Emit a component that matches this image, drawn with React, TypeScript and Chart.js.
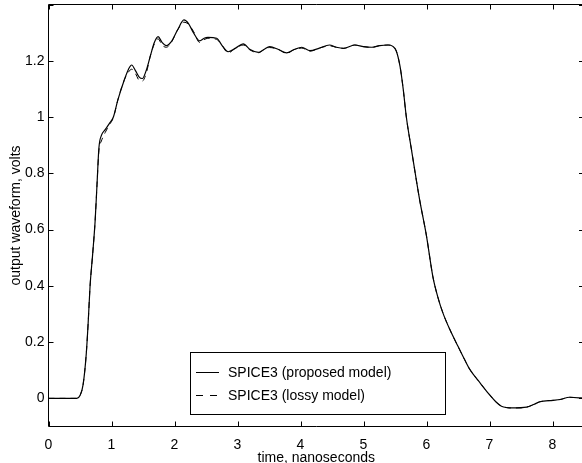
import React, { useEffect, useRef } from "react";
import { Chart, registerables } from "chart.js";

Chart.register(...registerables);

const times = [0, 0.3, 0.45, 0.5, 0.55, 0.6, 0.63, 0.66, 0.7, 0.74, 0.77, 0.8, 0.84, 0.9, 0.96, 1.03, 1.1, 1.2, 1.27, 1.32, 1.38, 1.44, 1.49, 1.55, 1.62, 1.68, 1.74, 1.8, 1.87, 1.95, 2.05, 2.15, 2.22, 2.3, 2.4, 2.47, 2.53, 2.67, 2.75, 2.85, 2.97, 3.09, 3.2, 3.33, 3.42, 3.51, 3.65, 3.78, 3.9, 4.02, 4.15, 4.3, 4.46, 4.57, 4.68, 4.86, 5.0, 5.13, 5.26, 5.39, 5.46, 5.52, 5.58, 5.63, 5.68, 5.76, 5.89, 6.0, 6.1, 6.18, 6.26, 6.38, 6.5, 6.6, 6.69, 6.85, 7.0, 7.1, 7.19, 7.37, 7.59, 7.7, 7.8, 8.01, 8.12, 8.27, 8.5];

const proposedModel = [0, 0, 0, 0.01, 0.05, 0.16, 0.27, 0.4, 0.51, 0.63, 0.76, 0.89, 0.935, 0.955, 0.975, 1.0, 1.06, 1.13, 1.17, 1.185, 1.165, 1.142, 1.137, 1.165, 1.22, 1.265, 1.286, 1.266, 1.254, 1.268, 1.31, 1.345, 1.333, 1.3, 1.271, 1.28, 1.283, 1.28, 1.256, 1.232, 1.245, 1.26, 1.24, 1.23, 1.24, 1.25, 1.24, 1.228, 1.24, 1.248, 1.236, 1.245, 1.256, 1.248, 1.244, 1.256, 1.25, 1.248, 1.254, 1.256, 1.252, 1.235, 1.18, 1.1, 1.0, 0.886, 0.707, 0.577, 0.434, 0.36, 0.304, 0.24, 0.185, 0.14, 0.102, 0.055, 0.013, -0.012, -0.028, -0.034, -0.031, -0.022, -0.012, -0.007, -0.004, 0.004, 0.0];

const lossyModel = [0, 0, 0, 0.01, 0.05, 0.16, 0.27, 0.4, 0.51, 0.63, 0.76, 0.88, 0.915, 0.945, 0.97, 0.998, 1.06, 1.13, 1.16, 1.17, 1.155, 1.13, 1.128, 1.155, 1.22, 1.26, 1.278, 1.256, 1.248, 1.265, 1.31, 1.337, 1.33, 1.305, 1.265, 1.275, 1.28, 1.276, 1.256, 1.228, 1.245, 1.256, 1.238, 1.228, 1.24, 1.247, 1.24, 1.226, 1.24, 1.245, 1.234, 1.245, 1.253, 1.248, 1.244, 1.256, 1.25, 1.248, 1.254, 1.256, 1.252, 1.235, 1.18, 1.1, 1.0, 0.886, 0.707, 0.577, 0.434, 0.36, 0.304, 0.24, 0.185, 0.14, 0.102, 0.055, 0.013, -0.012, -0.028, -0.034, -0.031, -0.022, -0.012, -0.007, -0.004, 0.004, 0.0];

const xTicks = [0, 1, 2, 3, 4, 5, 6, 7, 8];
const yTicks = [0, 0.2, 0.4, 0.6, 0.8, 1, 1.2, 1.4];
const seriesNames = ["SPICE3 (proposed model)", "SPICE3 (lossy model)"];
const xTitle = "time, nanoseconds";
const yTitle = "output waveform, volts";

const FONT = "'Liberation Sans', Arial, Helvetica, sans-serif";
const TICK = 5;

const framePlugin = {
  id: "matlabFrame",
  afterDraw(chart: any) {
    const { ctx, chartArea: a, scales } = chart;
    const xs = scales.x;
    const ys = scales.y;
    ctx.save();
    ctx.strokeStyle = "#000";
    ctx.lineWidth = 1;
    ctx.setLineDash([]);
    ctx.beginPath();
    ctx.rect(a.left, a.top, a.right - a.left, a.bottom - a.top);
    ctx.stroke();
    ctx.beginPath();
    xs.ticks.forEach((t: any) => {
      const px = Math.round(xs.getPixelForValue(t.value)) + 0.5;
      ctx.moveTo(px, a.bottom);
      ctx.lineTo(px, a.bottom - TICK);
      ctx.moveTo(px, a.top);
      ctx.lineTo(px, a.top + TICK);
    });
    ys.ticks.forEach((t: any) => {
      const py = Math.round(ys.getPixelForValue(t.value)) + 0.5;
      ctx.moveTo(a.left, py);
      ctx.lineTo(a.left + TICK, py);
      ctx.moveTo(a.right, py);
      ctx.lineTo(a.right - TICK, py);
    });
    ctx.stroke();

    // legend box
    const lx = 190.5, ly = 352.5, lw = 255, lh = 62;
    ctx.fillStyle = "#fff";
    ctx.fillRect(lx, ly, lw, lh);
    ctx.strokeRect(lx, ly, lw, lh);
    const rows = [372, 395];
    ctx.font = `14px ${FONT}`;
    ctx.fillStyle = "#000";
    ctx.textBaseline = "middle";
    ctx.textAlign = "left";
    rows.forEach((ry, i) => {
      ctx.beginPath();
      ctx.setLineDash(i === 0 ? [] : [7, 7]);
      ctx.moveTo(196, ry + 0.5);
      ctx.lineTo(219, ry + 0.5);
      ctx.stroke();
      ctx.setLineDash([]);
      ctx.fillText(seriesNames[i], 228, ry + 1);
    });
    ctx.restore();
  },
};

export default function App() {
  const ref = useRef<HTMLCanvasElement | null>(null);
  useEffect(() => {
    if (!ref.current) return;
    const chart = new Chart(ref.current, {
      type: "line",
      data: {
        datasets: [
          {
            label: seriesNames[0],
            data: times.map((t, i) => ({ x: t, y: proposedModel[i] })),
            borderColor: "#000",
            borderWidth: 1.2,
            pointRadius: 0,
            cubicInterpolationMode: "monotone",
            fill: false,
          },
          {
            label: seriesNames[1],
            data: times.map((t, i) => ({ x: t, y: lossyModel[i] })),
            borderColor: "#000",
            borderWidth: 1,
            borderDash: [6, 5],
            pointRadius: 0,
            cubicInterpolationMode: "monotone",
            fill: false,
          },
        ],
      },
      options: {
        animation: false,
        responsive: false,
        events: [],
        layout: { padding: { left: 0, top: 4.5, right: 6, bottom: 0 } },
        plugins: { legend: { display: false }, tooltip: { enabled: false } },
        scales: {
          x: {
            type: "linear",
            min: 0,
            max: 8.5,
            grid: { display: false, drawTicks: false },
            border: { display: false },
            afterBuildTicks: (s: any) => {
              s.ticks = xTicks.map((v) => ({ value: v }));
            },
            afterFit: (s: any) => {
              s.height = 36.5;
              s.paddingLeft = 0;
              s.paddingRight = 0;
            },
            ticks: {
              padding: 10,
              color: "#000",
              font: { family: FONT, size: 14 },
              maxRotation: 0,
              autoSkip: false,
              callback: (v: any) => String(v),
            },
            title: {
              display: true,
              text: xTitle,
              color: "#000",
              font: { family: FONT, size: 14 },
              padding: { top: 0, bottom: -4 },
            },
          },
          y: {
            type: "linear",
            min: -0.1,
            max: 1.4,
            grid: { display: false, drawTicks: false },
            border: { display: false },
            afterBuildTicks: (s: any) => {
              s.ticks = yTicks.map((v) => ({ value: v }));
            },
            afterFit: (s: any) => {
              s.width = 48.5;
              s.paddingTop = 0;
              s.paddingBottom = 0;
            },
            ticks: {
              padding: 4,
              color: "#000",
              font: { family: FONT, size: 14 },
              autoSkip: false,
              callback: (v: any) => (v >= 1.39 ? "" : String(Math.round(v * 10) / 10)),
            },
            title: {
              display: true,
              text: yTitle,
              color: "#000",
              font: { family: FONT, size: 14 },
              padding: { top: 7.5, bottom: 0 },
            },
          },
        },
      },
      plugins: [framePlugin],
    } as any);
    return () => chart.destroy();
  }, []);
  return (
    <div style={{ position: "fixed", left: 0, top: 0, width: 582, height: 463, overflow: "hidden", background: "#fff" }}>
      <canvas ref={ref} width={590} height={463} style={{ display: "block" }} />
    </div>
  );
}
